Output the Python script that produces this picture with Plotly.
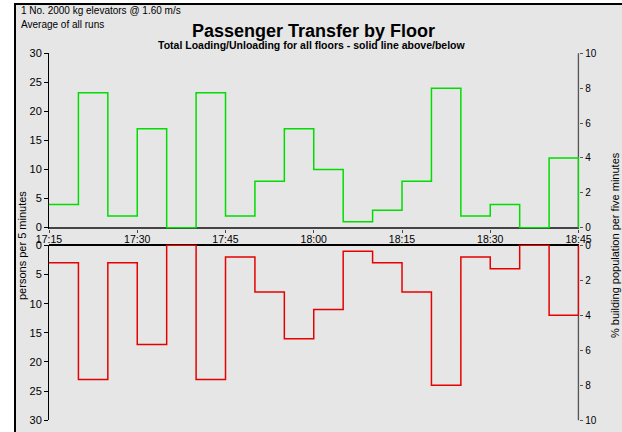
import plotly.graph_objects as go

# Five-minute bins, 17:15 - 18:45
bin_starts = ["17:15", "17:20", "17:25", "17:30", "17:35", "17:40", "17:45", "17:50", "17:55",
              "18:00", "18:05", "18:10", "18:15", "18:20", "18:25", "18:30", "18:35", "18:40"]
bin_end = "18:45"

# Persons per five minutes (all floors)
loading = [4, 23.2, 2, 17, 0, 23.2, 2, 8, 17, 10, 1, 3, 8, 24, 2, 4, 0, 12]
unloading = [3, 23, 3, 17, 0, 23, 2, 8, 16, 11, 1, 3, 8, 24, 2, 4, 0, 12]

building_population = 300
x_tick_labels = ["17:15", "17:30", "17:45", "18:00", "18:15", "18:30", "18:45"]

DAY = "2000-01-01 "
W, H = 622, 432
FONT = "Liberation Sans, Arial, sans-serif"
BG = "#e6e6e6"


def px_x(p):
    return p / W


def px_y(p):
    return 1 - p / H


def step_xy(vals):
    xs = [DAY + t for t in bin_starts] + [DAY + bin_end, DAY + bin_end]
    ys = list(vals) + [vals[-1], 0]
    return xs, ys


fig = go.Figure()

gx, gy = step_xy(loading)
fig.add_trace(go.Scatter(x=gx, y=gy, mode="lines", line=dict(color="#00dd00", width=1.5, shape="hv"),
                         xaxis="x", yaxis="y", showlegend=False, hoverinfo="skip"))
rx, ry = step_xy(unloading)
fig.add_trace(go.Scatter(x=rx, y=ry, mode="lines", line=dict(color="#e60000", width=1.5, shape="hv"),
                         xaxis="x2", yaxis="y3", showlegend=False, hoverinfo="skip"))

# percentage of building population on the right-hand axes
pct_load = [v * 100 / building_population for v in loading]
pct_unload = [v * 100 / building_population for v in unloading]
fig.add_trace(go.Scatter(x=[DAY + t for t in bin_starts], y=pct_load, mode="lines",
                         line=dict(width=0), opacity=0, xaxis="x", yaxis="y2",
                         showlegend=False, hoverinfo="skip"))
fig.add_trace(go.Scatter(x=[DAY + t for t in bin_starts], y=pct_unload, mode="lines",
                         line=dict(width=0), opacity=0, xaxis="x2", yaxis="y4",
                         showlegend=False, hoverinfo="skip"))

# small pads so the zero baseline and the closing step at 18:45 sit inside the plot area
PAD = 0.15
x_dom = [px_x(49), px_x(579.3)]
top_dom = [px_y(228.5), px_y(53.3)]
bot_dom = [px_y(420.3), px_y(244.5)]
x_range = [DAY + bin_starts[0], DAY + bin_end + ":08"]
tickvals = [DAY + t for t in x_tick_labels]

left_y = dict(showline=True, linecolor="black", linewidth=1, ticks="outside", ticklen=4,
              tickcolor="black", tickwidth=1, showgrid=False, automargin=False,
              tickfont=dict(size=11, color="black", family=FONT), dtick=5)
right_y = dict(showline=False, ticks="outside", ticklen=3,
               tickcolor="#555555", tickwidth=1, showgrid=False, zeroline=False, side="right",
               automargin=False, tickfont=dict(size=10, color="black", family=FONT), dtick=2)

fig.update_layout(
    width=W, height=H,
    margin=dict(l=0, r=0, t=0, b=0, pad=0, autoexpand=False),
    paper_bgcolor="white",
    plot_bgcolor="rgba(0,0,0,0)",
    font=dict(family=FONT, color="black"),
    xaxis=dict(domain=x_dom, anchor="y", range=x_range, tickvals=tickvals, ticktext=x_tick_labels,
               showline=False, ticks="outside", ticklen=3, tickcolor="#444444",
               showgrid=False, zeroline=False, automargin=False, ticklabelstandoff=-2,
               tickfont=dict(size=10.5, color="black", family=FONT)),
    xaxis2=dict(domain=x_dom, anchor="y3", range=x_range, side="top", showticklabels=False,
                showline=False, ticks="", showgrid=False, zeroline=False, automargin=False),
    yaxis=dict(domain=top_dom, anchor="x", range=[-PAD, 30], zeroline=True,
               zerolinecolor="#444444", zerolinewidth=1.5, **left_y),
    yaxis2=dict(anchor="x", overlaying="y", range=[-PAD / 3, 10], **right_y),
    yaxis3=dict(domain=bot_dom, anchor="x2", range=[30, -PAD], zeroline=True,
                zerolinecolor="black", zerolinewidth=1.5, **left_y),
    yaxis4=dict(anchor="x2", overlaying="y3", range=[10, -PAD / 3], **right_y),
)

# grey panel with black left/top edge
fig.add_shape(type="rect", xref="paper", yref="paper", x0=px_x(15), x1=1.02, y0=-0.02, y1=px_y(4),
              fillcolor=BG, line=dict(color="black", width=2), layer="below")

# right-hand axis lines at 18:45, beneath the step lines
for xr, yr in (("x", "y domain"), ("x2", "y3 domain")):
    fig.add_shape(type="line", xref=xr, yref=yr, x0=DAY + bin_end, x1=DAY + bin_end, y0=0, y1=1,
                  line=dict(color="#555555", width=1.5), layer="below")

annotations = [
    dict(text="1 No. 2000 kg elevators @ 1.60 m/s", x=px_x(19), y=px_y(11), xanchor="left",
         font=dict(size=10)),
    dict(text="Average of all runs", x=px_x(19), y=px_y(24), xanchor="left", font=dict(size=10)),
    dict(text="<b>Passenger Transfer by Floor</b>", x=px_x(313), y=px_y(30.5), xanchor="center",
         font=dict(size=18)),
    dict(text="<b>Total Loading/Unloading for all floors - solid line above/below</b>",
         x=px_x(311), y=px_y(44.5), xanchor="center", font=dict(size=10.5)),
    dict(text="persons per 5 minutes", x=px_x(22), y=px_y(246), xanchor="center", textangle=-90,
         font=dict(size=11)),
    dict(text="% building population per five minutes", x=px_x(615), y=px_y(245), xanchor="center",
         textangle=-90, font=dict(size=11)),
]
for a in annotations:
    fig.add_annotation(xref="paper", yref="paper", showarrow=False, yanchor="middle",
                       font_family=FONT, font_color="black", **{k: v for k, v in a.items()})

fig.write_html("out.html")
